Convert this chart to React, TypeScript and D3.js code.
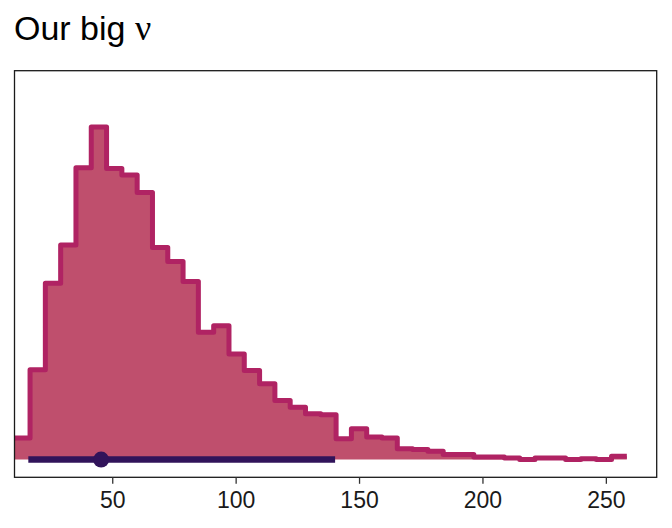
import { useEffect, useRef } from 'react'
import * as d3 from 'd3'

// Posterior draws of nu, binned (40 equal bins)
const binStart = 10.5
const binWidth = 6.2
const binCounts = [
  26, 108, 212, 258, 351, 400, 350, 342, 321, 255,
  238, 214, 153, 161, 127, 107, 91, 71, 63, 55,
  54, 25, 37, 27, 26, 13, 12, 10, 6, 6,
  3, 3, 2, 0, 2, 2, 0, 1, 0, 4,
]

// point + interval summary
const pointEstimate = 45.5
const intervalLow = 16.0
const intervalHigh = 140.3

const xTicks = [50, 100, 150, 200, 250]
const xDomain: [number, number] = [10.4, 270.6]

const title = 'Our big '
const titleSymbol = 'ν'

const W = 672
const H = 528

export default function App() {
  const svgRef = useRef<SVGSVGElement>(null)

  useEffect(() => {
    document.body.style.margin = '0'
    const svgEl = svgRef.current
    if (!svgEl) return

    const panel = { left: 14.5, right: 656.7, top: 70.7, bottom: 477.3 }
    const outline = '#b02363'
    const fill = '#bf4f6d'
    const dark = '#31135a'

    const x = d3.scaleLinear().domain(xDomain).range([panel.left, panel.right])
    // slab thickness normalised to 0.9 of the row, ggplot-ish expansion
    const y = d3.scaleLinear().domain([-0.048, 1.052]).range([panel.bottom, panel.top])

    const maxCount = d3.max(binCounts) ?? 1
    const pts = binCounts.map((c, i) => ({ x: binStart + i * binWidth, t: (c / maxCount) * 0.9 }))
    pts.push({ x: binStart + binCounts.length * binWidth, t: pts[pts.length - 1].t })

    const svg = d3.select(svgEl)
    svg.selectAll('*').remove()

    // Title
    const tt = svg.append('text')
      .attr('x', 14)
      .attr('y', 40)
      .style('font-family', '"Liberation Sans", Arial, sans-serif')
      .style('font-size', '34px')
      .style('fill', '#000')
    tt.append('tspan').text(title)
    tt.append('tspan')
      .style('font-family', '"Liberation Serif", "DejaVu Serif", serif')
      .style('font-size', '36px')
      .text(titleSymbol)

    // Slab fill
    const area = d3.area<{ x: number; t: number }>()
      .x(d => x(d.x))
      .y0(y(0))
      .y1(d => y(d.t))
      .curve(d3.curveStepAfter)
    svg.append('path')
      .datum(pts)
      .attr('d', area)
      .style('fill', fill)
      .style('stroke', 'none')

    // Slab outline
    const line = d3.line<{ x: number; t: number }>()
      .x(d => x(d.x))
      .y(d => y(d.t))
      .curve(d3.curveStepAfter)
    svg.append('path')
      .datum(pts)
      .attr('d', line)
      .style('fill', 'none')
      .style('stroke', outline)
      .style('stroke-width', '5')
      .style('stroke-linejoin', 'round')

    // Interval
    svg.append('line')
      .attr('x1', x(intervalLow))
      .attr('x2', x(intervalHigh))
      .attr('y1', y(0))
      .attr('y2', y(0))
      .style('stroke', dark)
      .style('stroke-width', '6.5')

    svg.append('circle')
      .attr('cx', x(pointEstimate))
      .attr('cy', y(0))
      .attr('r', 8)
      .style('fill', dark)

    // Panel border
    svg.append('rect')
      .attr('x', panel.left)
      .attr('y', panel.top)
      .attr('width', panel.right - panel.left)
      .attr('height', panel.bottom - panel.top)
      .style('fill', 'none')
      .style('stroke', '#1a1a1a')
      .style('stroke-width', '1.3')

    // X axis
    const xAxisG = svg.append('g').attr('transform', `translate(0,${panel.bottom})`)
    xAxisG.call(d3.axisBottom(x).tickValues(xTicks).tickSize(6.5).tickPadding(8).tickFormat(d => `${d}`))
    xAxisG.select('.domain').remove()
    xAxisG.selectAll('.tick line').style('stroke', '#333').style('stroke-width', '1.3')
    xAxisG.selectAll('text')
      .style('fill', '#1a1a1a')
      .style('font-size', '23px')
      .style('font-family', '"Liberation Sans", Arial, sans-serif')
  }, [])

  return <svg ref={svgRef} width={W} height={H} style={{ display: 'block', background: '#fff' }} />
}
